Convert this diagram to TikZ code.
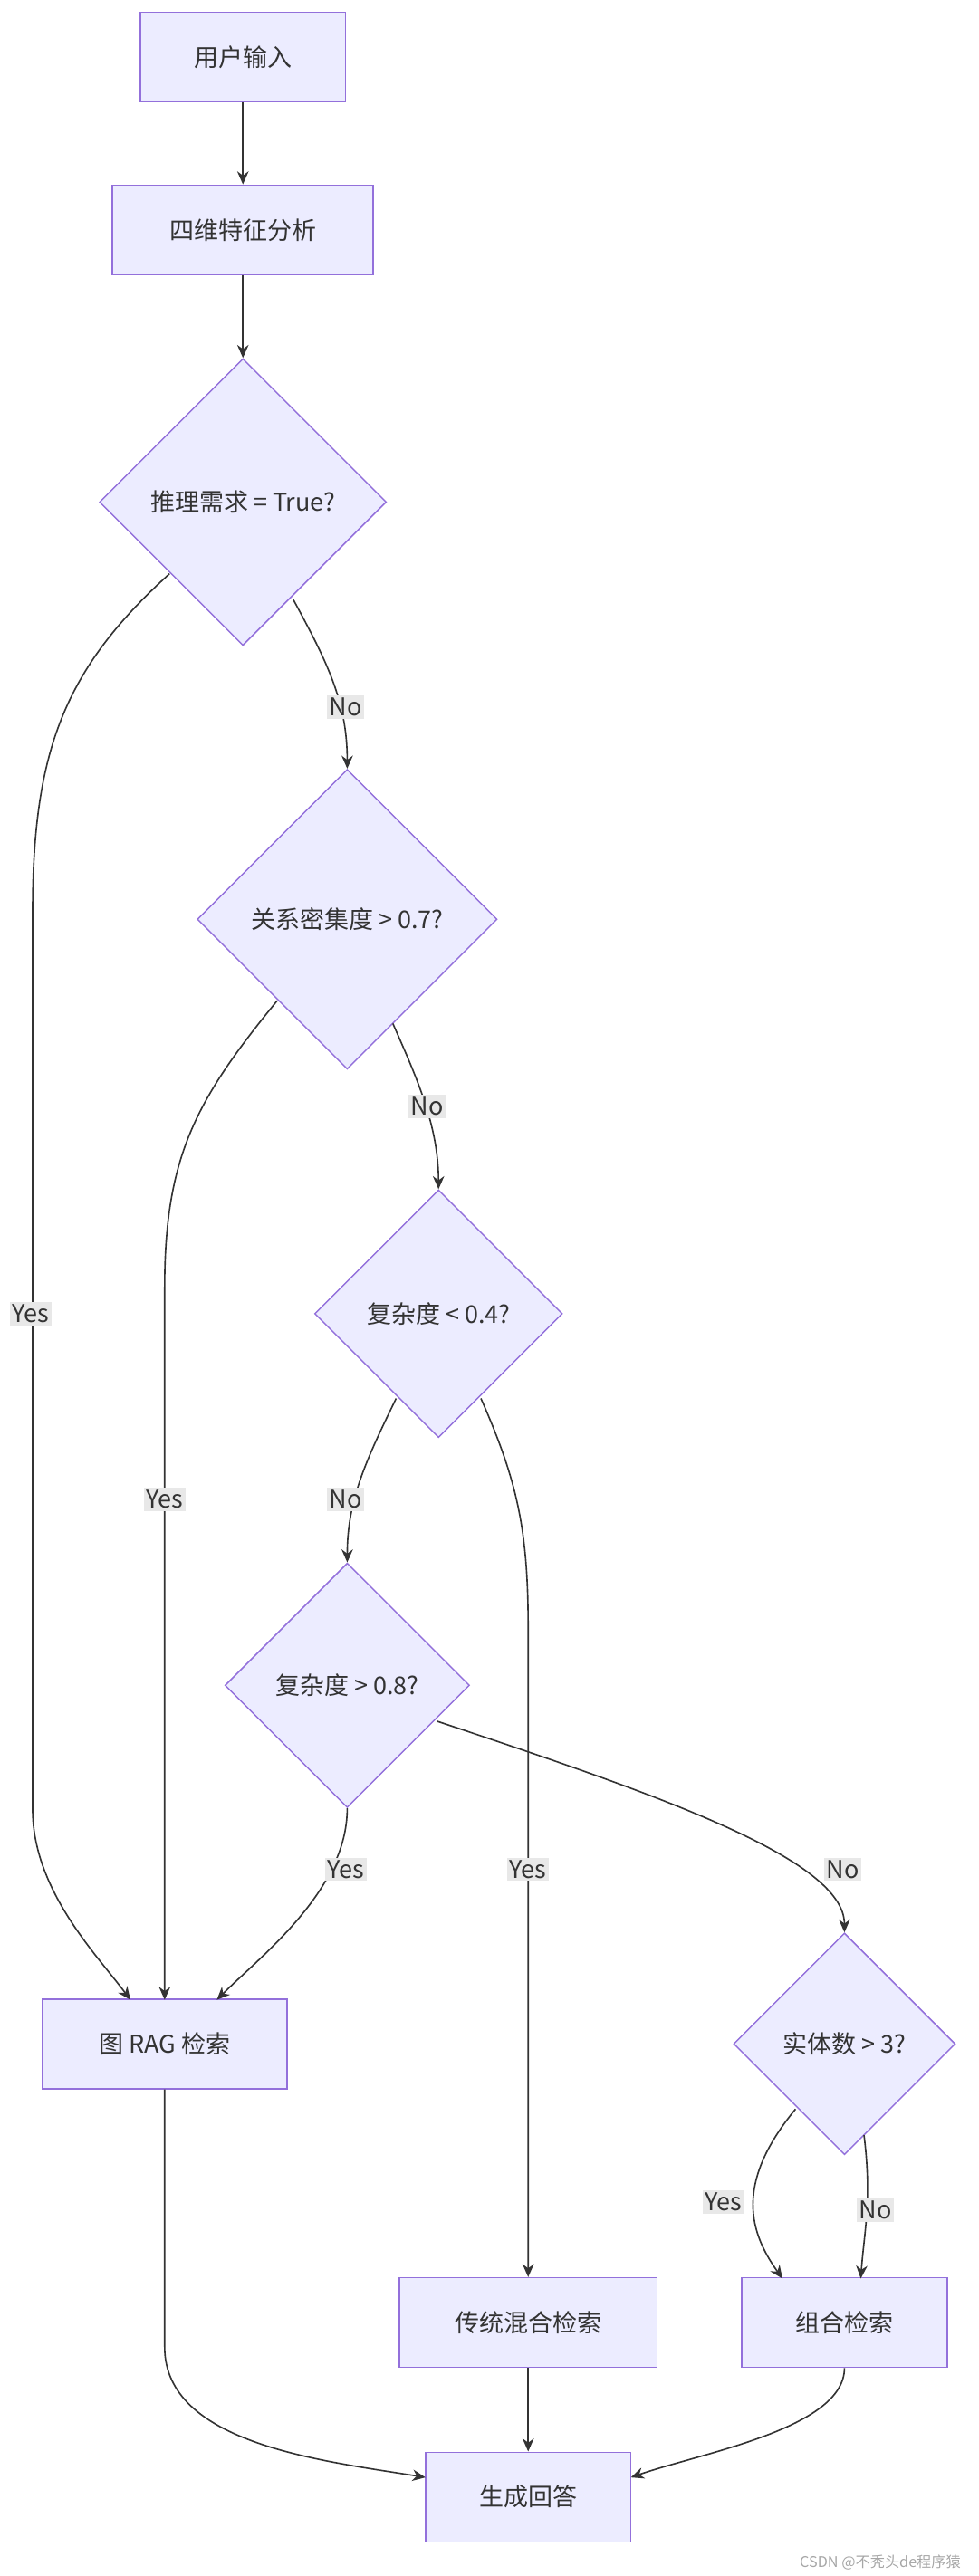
\documentclass[tikz,border=0pt]{standalone}
\usepackage{fontspec}
\setmainfont{Noto Sans CJK SC}
\usetikzlibrary{shapes.geometric,arrows.meta}
\definecolor{nfill}{HTML}{ECECFF}
\definecolor{nline}{HTML}{9370DB}
\definecolor{eline}{HTML}{333333}
\definecolor{lbg}{HTML}{E8E8E8}
\begin{document}
\begin{tikzpicture}[x=1pt,y=-1pt,
  box/.style={draw=nline,fill=nfill,line width=0.8pt,font=\fontsize{15}{18}\selectfont,text=eline,inner sep=0pt},
  dia/.style={draw=nline,fill=nfill,line width=0.8pt,diamond,aspect=1,font=\fontsize{15}{18}\selectfont,text=eline,inner sep=0pt},
  arr/.style={draw=eline,line width=0.9pt,-{Stealth[length=8pt,width=7pt]}},
  lab/.style={fill=lbg,font=\fontsize{15}{18}\selectfont,text=eline,inner sep=1.5pt}]
\useasboundingbox (0,0) rectangle (600,1580.5);
\node[box,minimum width=126,minimum height=55] (in) at (149,35) {用户输入};
\node[box,minimum width=160,minimum height=55] (fa) at (149,141) {四维特征分析};
\node[dia,minimum size=176] (d1) at (149,308) {推理需求 = True?};
\node[dia,minimum size=184] (d2) at (213,564) {关系密集度 > 0.7?};
\node[dia,minimum size=152] (d3) at (269,806) {复杂度 < 0.4?};
\node[dia,minimum size=150] (d4) at (213,1034) {复杂度 > 0.8?};
\node[box,minimum width=150,minimum height=55] (rag) at (101,1254) {图 RAG 检索};
\node[dia,minimum size=136] (d5) at (518,1254) {实体数 > 3?};
\node[box,minimum width=158,minimum height=55] (tr) at (324,1425) {传统混合检索};
\node[box,minimum width=126,minimum height=55] (zh) at (518,1425) {组合检索};
\node[box,minimum width=126,minimum height=55] (sc) at (324,1532) {生成回答};
\coordinate (rag1) at (80,1227);
\coordinate (rag2) at (101,1227);
\coordinate (rag3) at (133,1227);
\coordinate (sc1) at (261,1520);
\coordinate (sc2) at (387,1520);
\coordinate (zh1) at (480,1398);
\coordinate (zh2) at (528,1398);
\draw[arr] (in) -- (fa);
\draw[arr] (fa) -- (d1);
\draw[arr] (d1.south west) ++(0,0) (104,352) .. controls (40,410) and (20,460) .. (20,560) -- (20,1110) .. controls (20,1160) and (60,1200) .. (rag1);
\node[lab] at (19,806) {Yes};
\draw[arr] (180,368) .. controls (200,405) and (213,430) .. (d2.north);
\node[lab] at (212,434) {No};
\draw[arr] (170,614) .. controls (120,675) and (101,710) .. (101,790) -- (rag2);
\node[lab] at (101,920) {Yes};
\draw[arr] (241,628) .. controls (255,660) and (269,690) .. (d3.north);
\node[lab] at (262,679) {No};
\draw[arr] (243,858) .. controls (225,895) and (213,920) .. (d4.north);
\node[lab] at (212,920) {No};
\draw[arr] (295,858) .. controls (318,910) and (324,940) .. (324,1000) -- (tr.north);
\node[lab] at (324,1147) {Yes};
\draw[arr] (d4.south) .. controls (213,1160) and (160,1200) .. (rag3);
\node[lab] at (212,1147) {Yes};
\draw[arr] (268,1056) .. controls (400,1100) and (518,1140) .. (d5.north);
\node[lab] at (517,1147) {No};
\draw[arr] (488,1294) .. controls (450,1340) and (460,1370) .. (zh1);
\node[lab] at (444,1351) {Yes};
\draw[arr] (530,1310) .. controls (535,1350) and (530,1370) .. (zh2);
\node[lab] at (537,1356) {No};
\draw[arr] (rag.south) -- (101,1440) .. controls (101,1500) and (200,1510) .. (sc1);
\draw[arr] (tr) -- (sc);
\draw[arr] (zh.south) .. controls (518,1490) and (430,1505) .. (sc2);
\node[font=\fontsize{9}{11}\selectfont,text=gray!70] at (540,1572) {CSDN @不秃头de程序猿};
\end{tikzpicture}
\end{document}
